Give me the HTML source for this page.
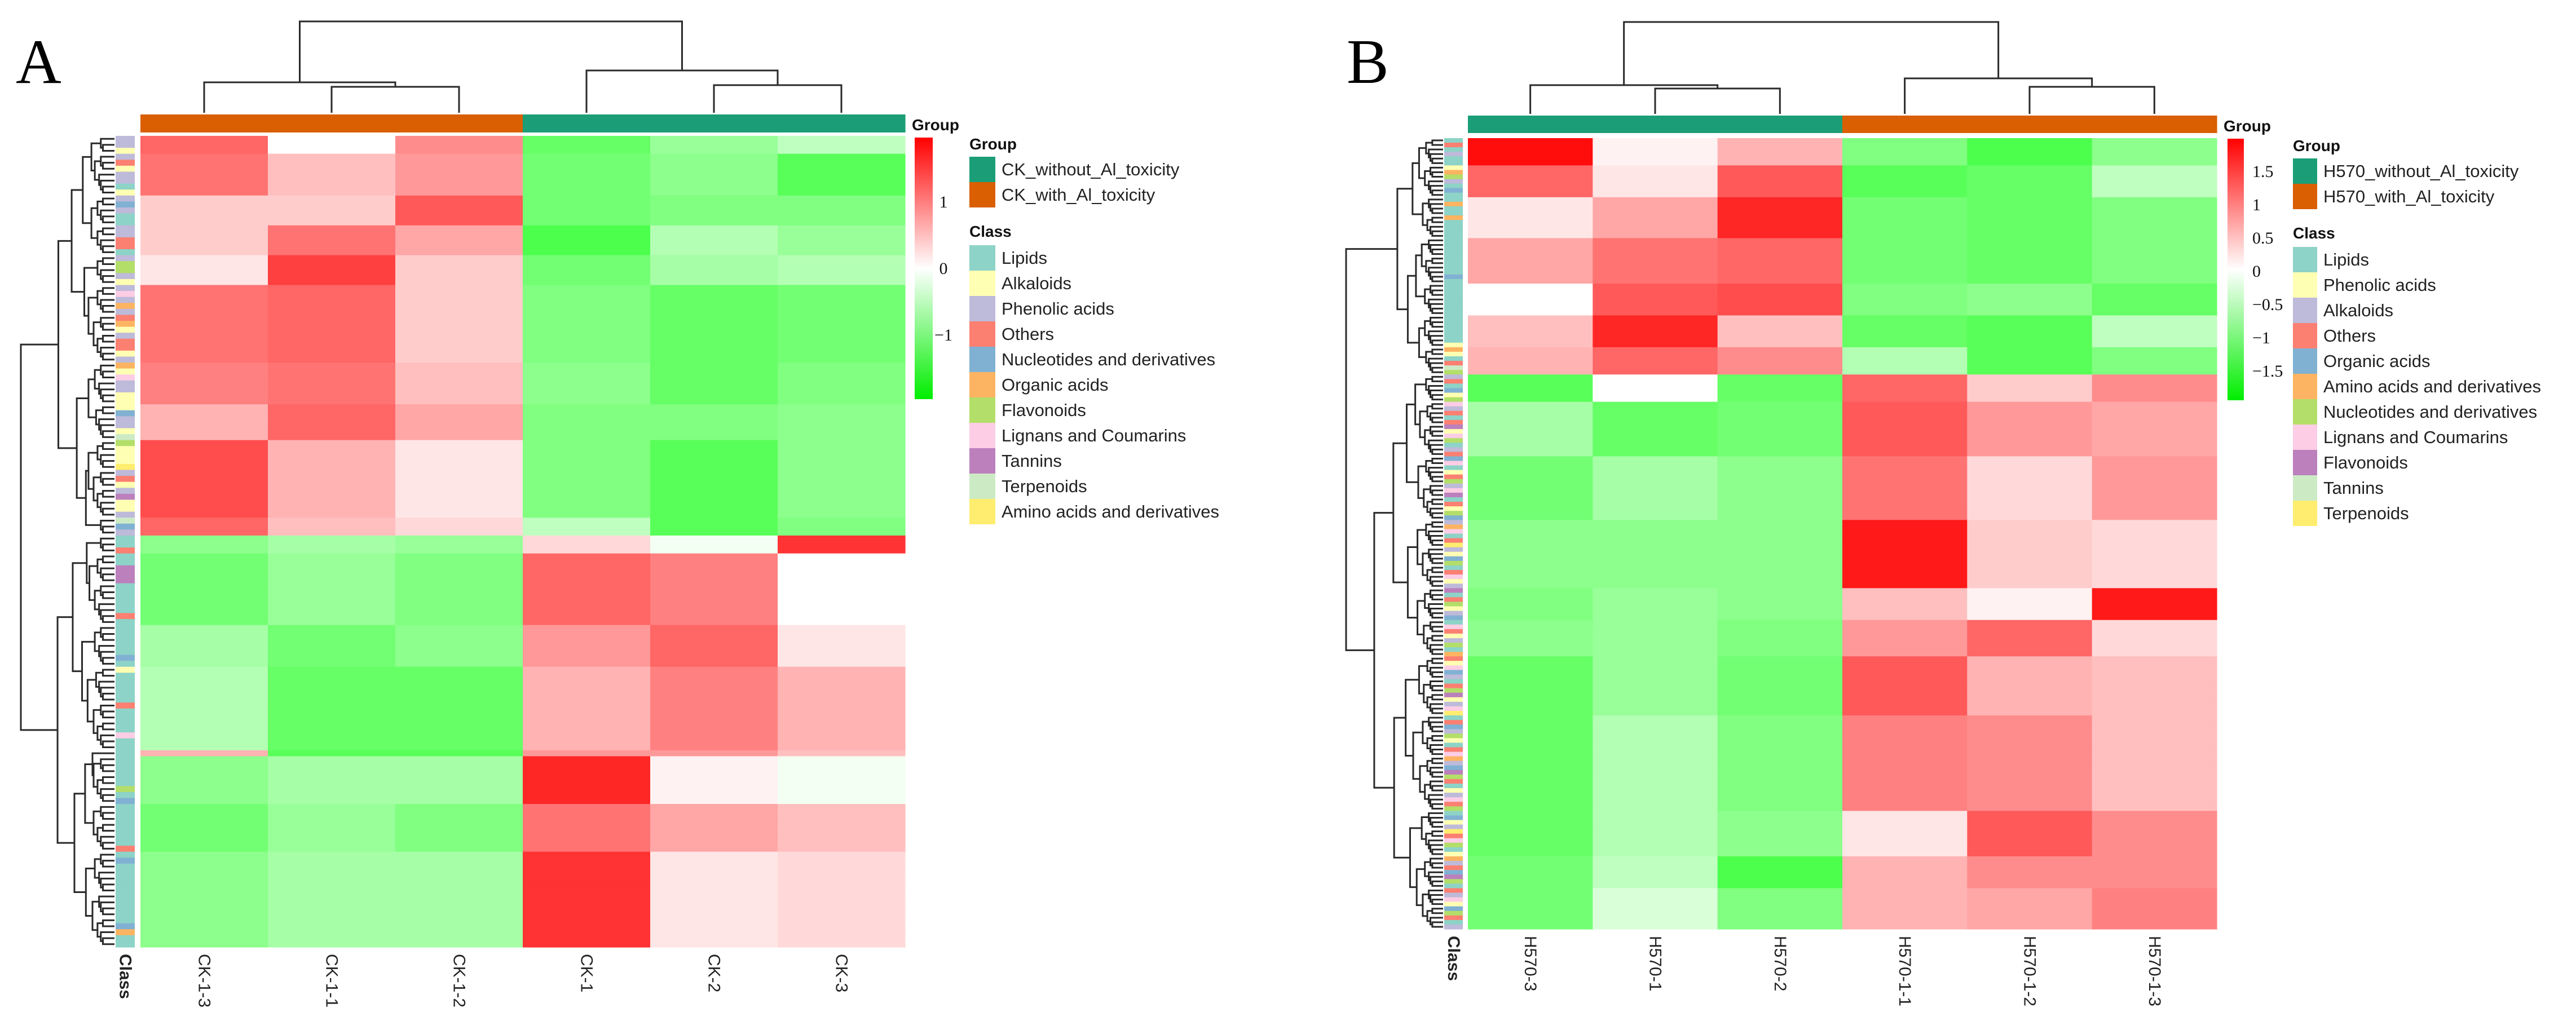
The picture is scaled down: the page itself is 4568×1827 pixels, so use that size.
<!DOCTYPE html>
<html><head><meta charset="utf-8"><style>
html,body{margin:0;padding:0;background:#fff;}
svg{display:block;}
.lg{font-family:"Liberation Sans",sans-serif;font-size:31px;fill:#222;}
.lgt{font-family:"Liberation Sans",sans-serif;font-size:28px;font-weight:bold;fill:#111;}
.cb{font-family:"Liberation Serif",serif;font-size:30px;fill:#111;}
.cl{font-family:"Liberation Sans",sans-serif;font-size:30px;fill:#222;}
.pl{font-family:"Liberation Serif",serif;font-size:112px;fill:#000;}
</style></head><body>
<svg id="fig" width="4568" height="1827" viewBox="0 0 4568 1827" xmlns="http://www.w3.org/2000/svg">
<rect x="0" y="0" width="4568" height="1827" fill="#fff"/>
<text class="pl" x="28" y="147">A</text>
<text class="pl" x="2388" y="147">B</text>
</svg>
<script>
// ---------- Panel A data ----------
const colsA = ['CK-1-3','CK-1-1','CK-1-2','CK-1','CK-2','CK-3'];
const groupsA = ['with','with','with','without','without','without'];
const blockRowsA = [3,7,5,5,5,13,7,6,13,3, 3,12,7,14,1,8,8,16];
const blockValsA = [
 [1.2,0.0,0.9,-1.2,-0.8,-0.5],
 [1.1,0.5,0.8,-1.1,-0.9,-1.3],
 [0.4,0.4,1.3,-1.1,-1.0,-1.0],
 [0.4,1.1,0.7,-1.4,-0.6,-0.8],
 [0.2,1.5,0.4,-1.1,-0.7,-0.6],
 [1.1,1.2,0.4,-1.0,-1.2,-1.1],
 [1.0,1.1,0.5,-0.9,-1.2,-1.0],
 [0.6,1.2,0.7,-1.0,-1.0,-0.9],
 [1.4,0.6,0.2,-1.0,-1.3,-0.9],
 [1.2,0.5,0.3,-0.5,-1.3,-1.0],
 [-0.9,-0.7,-0.8,0.3,-0.1,1.6],
 [-1.1,-0.8,-1.0,1.2,1.0,0.0],
 [-0.7,-1.1,-0.9,0.8,1.2,0.2],
 [-0.6,-1.2,-1.2,0.6,1.0,0.6],
 [0.6,-1.3,-1.3,0.8,0.8,0.5],
 [-0.9,-0.7,-0.7,1.7,0.1,-0.1],
 [-1.1,-0.8,-1.0,1.1,0.7,0.5],
 [-0.9,-0.7,-0.7,1.6,0.2,0.3]
];
const clusterRowsA = [67,69];
const classCodesA = "PPKPOKPPLKPNPLLPPOOLPFFPKPCPGPOGKPOOKPGKCPPKKKNPPKEFKKKMPOKPTKKPENP" +
                    "LLOLLTTTLLLLLOLLLLLLNLKLLLLLOLLLLCLLLLLLLLFLNLLLLLLLOLNLLLLLLLLLLNGLL";
const classNamesA = ['Lipids','Alkaloids','Phenolic acids','Others','Nucleotides and derivatives','Organic acids','Flavonoids','Lignans and Coumarins','Tannins','Terpenoids','Amino acids and derivatives'];
const classKeysA = ['L','K','P','O','N','G','F','C','T','E','M'];
const groupNamesA = ['CK_without_Al_toxicity','CK_with_Al_toxicity'];
const colorTicksA = [1,0,-1];

// ---------- Panel B data ----------
const colsB = ['H570-3','H570-1','H570-2','H570-1-1','H570-1-2','H570-1-3'];
const groupsB = ['without','without','without','with','with','with'];
const blockRowsB = [6,7,9,10,7,7,6, 6,12,14,15,7,8,13,21,10,7,9];
const blockValsB = [
 [1.9,0.1,0.6,-1.0,-1.4,-0.9],
 [1.2,0.2,1.3,-1.3,-1.2,-0.5],
 [0.2,0.7,1.7,-1.1,-1.2,-1.0],
 [0.7,1.1,1.2,-1.1,-1.2,-1.0],
 [0.0,1.3,1.4,-1.0,-0.9,-1.2],
 [0.5,1.7,0.5,-1.2,-1.3,-0.5],
 [0.6,1.2,0.9,-0.6,-1.3,-1.0],
 [-1.3,0.0,-1.2,1.2,0.4,0.9],
 [-0.7,-1.2,-1.1,1.3,0.8,0.7],
 [-1.1,-0.7,-0.9,1.1,0.3,0.8],
 [-0.9,-0.9,-0.9,1.8,0.4,0.3],
 [-1.0,-0.8,-0.9,0.5,0.1,1.8],
 [-0.9,-0.8,-1.0,0.8,1.2,0.3],
 [-1.2,-0.8,-1.1,1.3,0.6,0.5],
 [-1.2,-0.6,-1.0,1.0,0.9,0.5],
 [-1.2,-0.6,-0.9,0.2,1.3,0.9],
 [-1.1,-0.5,-1.4,0.6,0.9,0.9],
 [-1.1,-0.3,-1.0,0.6,0.7,1.0]
];
const clusterRowsB = [52,122];
const classCodesB = "LOLPLLKMNPLGLLMLLMLLLLLLLLLLLLGLLLLLLLLLLLLLLKMKLOTN" +
  "POLGKNCPOLOFKCNLPOGCLKONPCFLOKNGPMCLOEPKGNLOCKPFLONKPGLCOKPNLMOKCGPLONFKPCELOGPNKLOCMPGFNOLKPCONLGKPEOCNLKMPOGFNLOPCKGNOLPKMOGN";
const classNamesB = ['Lipids','Phenolic acids','Alkaloids','Others','Organic acids','Amino acids and derivatives','Nucleotides and derivatives','Lignans and Coumarins','Flavonoids','Tannins','Terpenoids'];
const classKeysB = ['L','K','P','O','G','M','N','C','F','T','E'];
const groupNamesB = ['H570_without_Al_toxicity','H570_with_Al_toxicity'];
const colorTicksB = [1.5,1,0.5,0,-0.5,-1,-1.5];

const palette = ['#8DD3C7','#FFFFB3','#BEBADA','#FB8072','#80B1D3','#FDB462','#B3DE69','#FCCDE5','#BC80BD','#CCEBC5','#FFED6F'];
const groupColor = {without:'#1B9E77', with:'#D95F02'};

const NS='http://www.w3.org/2000/svg';
const svg=document.getElementById('fig');
function mk(tag, attrs, parent){const e=document.createElementNS(NS,tag);for(const k in attrs)e.setAttribute(k,attrs[k]);(parent||svg).appendChild(e);return e;}
function colorOf(v){
  let t=Math.max(-1,Math.min(1,v/2));
  if(t>=0){const c=Math.round(255*(1-t));return `rgb(255,${c},${c})`;}
  const c=Math.round(255*(1+t));return `rgb(${c},255,${c})`;
}

function drawPanel(P){
  const g=mk('g',{});
  
  
  const rows=[];
  P.blockRows.forEach((n,bi)=>{for(let i=0;i<n;i++)rows.push(P.blockVals[bi]);});
  const N=rows.length;
  const rh=(P.bottom-P.top)/N;
  const cw=(P.right-P.left)/P.cols.length;
  const xOf=c=>P.left+c*cw;
  const yOf=r=>P.top+r*rh;
  rows.forEach((vals,r)=>{
    vals.forEach((v,c)=>{
      const e=mk('rect',{x:xOf(c),y:yOf(r),width:cw+0.6,height:rh+0.6,fill:colorOf(v)},g);
      
      
    });
  });
  for(let r=0;r<N;r++){
    const code=P.classCodes[r]||'L';
    const idx=Math.max(0,P.classKeys.indexOf(code));
    const e=mk('rect',{x:P.classX,y:yOf(r),width:P.classW,height:rh+0.6,fill:palette[idx]},g);
    
    
  }
  P.groups.forEach((gr,c)=>{
    const e=mk('rect',{x:xOf(c),y:P.gTop,width:cw+0.6,height:P.gH,fill:groupColor[gr]},g);
    
    
  });
  const gl=mk('text',{x:P.right+12,y:P.gTop+28,class:'lgt'},g);gl.textContent='Group';
  
  
  P.cols.forEach((name,c)=>{
    const cx=xOf(c)+cw/2;
    const t=mk('text',{x:cx,y:P.labY,class:'cl','dominant-baseline':'central',transform:`rotate(90 ${cx} ${P.labY})`},g);
    t.textContent=name;
    
    
  });
  const cx=P.classX+P.classW/2;
  const ct=mk('text',{x:cx,y:P.labY,class:'cl','font-weight':'bold','dominant-baseline':'central',transform:`rotate(90 ${cx} ${P.labY})`},g);
  ct.textContent='Class';
  
  
  const bounds=[];let acc=0;P.blockRows.forEach(n=>{acc+=n;bounds.push(acc);});
  const dg=mk('g',{stroke:'#2a2a2a','stroke-width':3,fill:'none'},g);
  
  
  const span=P.leafX-P.rootX;
  function build(lo,hi,depth){
    if(hi-lo===1)return {y:yOf(lo)+rh/2,x:P.leafX};
    let s;
    if(depth===0){s=P.clusterRows[0];}
    else{
      const inner=bounds.filter(b=>b>lo&&b<hi);
      const mid=(lo+hi)/2;
      if(inner.length){s=inner.reduce((a,b)=>Math.abs(b-mid)<Math.abs(a-mid)?b:a);}
      else{s=lo+Math.max(1,Math.floor((hi-lo)*0.45));}
    }
    const a=build(lo,s,depth+1),b=build(s,hi,depth+1);
    const x=depth===0?P.rootX:P.leafX-span*0.82*Math.pow((hi-lo)/N,0.5)-4;
    mk('path',{d:`M${a.x} ${a.y}H${x}V${b.y}H${b.x}`},dg);
    return {x:x,y:(a.y+b.y)/2};
  }
  build(0,N,0);
  const cd=mk('g',{stroke:'#2a2a2a','stroke-width':3,fill:'none'},g);
  
  
  const cc=c=>xOf(c)+cw/2;
  const Lb=P.gTop-3;
  function link(x1,y1,x2,y2,h){mk('path',{d:`M${x1} ${y1}V${h}H${x2}V${y2}`},cd);return (x1+x2)/2;}
  const m12=link(cc(1),Lb,cc(2),Lb,P.dh[0]);
  const mL=link(cc(0),Lb,m12,P.dh[0],P.dh[1]);
  const m45=link(cc(4),Lb,cc(5),Lb,P.dh[2]);
  const mR=link(cc(3),Lb,m45,P.dh[2],P.dh[3]);
  link(mL,P.dh[1],mR,P.dh[3],P.dh[4]);
  const gid='grad'+P.id;
  const defs=mk('defs',{},g);
  const lg=mk('linearGradient',{id:gid,x1:0,y1:0,x2:0,y2:1},defs);
  [[0,'#ff0000'],[0.5,'#ffffff'],[1,'#00ee00']].forEach(s=>mk('stop',{offset:s[0],'stop-color':s[1]},lg));
  const cbar=mk('rect',{x:P.cbX,y:P.cbTop,width:P.cbW,height:P.cbBot-P.cbTop,fill:`url(#${gid})`},g);
  
  
  const vToY=v=>P.cbZero-v*P.cbUnit;
  P.ticks.forEach(v=>{
    const t=mk('text',{x:P.cbLabX,y:vToY(v)+10,class:'cb','text-anchor':P.cbAnchor},g);
    t.textContent=(v<0?'\u2212':'')+Math.abs(v);
    
    
  });
  const lx=P.legX;
  const t1=mk('text',{x:lx,y:P.legY,class:'lgt'},g);t1.textContent='Group';
  
  
  const sh=45;
  const gcs=[groupColor.without,groupColor.with];
  P.groupNames.forEach((nm,i)=>{
    const y=P.legY+13+i*sh;
    const r=mk('rect',{x:lx,y:y,width:P.swW,height:sh,fill:gcs[i]},g);
    
    
    const t=mk('text',{x:lx+P.swW+11,y:y+33,class:'lg'},g);t.textContent=nm;
    
    
  });
  const cy=P.legY+155;
  const t2=mk('text',{x:lx,y:cy,class:'lgt'},g);t2.textContent='Class';
  
  
  P.classNames.forEach((nm,i)=>{
    const y=cy+15+i*sh;
    const r=mk('rect',{x:lx,y:y,width:P.swW,height:sh,fill:palette[i]},g);
    
    
    const t=mk('text',{x:lx+P.swW+11,y:y+33,class:'lg'},g);t.textContent=nm;
    
    
  });
}

drawPanel({id:'a',cols:colsA,groups:groupsA,blockRows:blockRowsA,blockVals:blockValsA,clusterRows:clusterRowsA,
  classCodes:classCodesA,classKeys:classKeysA,classNames:classNamesA,groupNames:groupNamesA,ticks:colorTicksA,
  left:249,right:1605,top:241,bottom:1680,classX:205,classW:34,gTop:203,gH:32,labY:1692,
  leafX:203,rootX:37,dh:[154,146,151,125,38],
  cbX:1622,cbW:32,cbTop:244,cbBot:708,cbZero:476,cbUnit:118,cbLabX:1673,cbAnchor:'middle',
  legX:1719,legY:265,swW:46});
drawPanel({id:'b',cols:colsB,groups:groupsB,blockRows:blockRowsB,blockVals:blockValsB,clusterRows:clusterRowsB,
  classCodes:classCodesB,classKeys:classKeysB,classNames:classNamesB,groupNames:groupNamesB,ticks:colorTicksB,
  left:2603,right:3931,top:245,bottom:1648,classX:2561,classW:33,gTop:205,gH:31,labY:1660,
  leafX:2559,rootX:2387,dh:[157,151,154,139,39],
  cbX:3950,cbW:29,cbTop:246,cbBot:710,cbZero:481,cbUnit:118,cbLabX:3994,cbAnchor:'start',
  legX:4066,legY:268,swW:43});
</script>
</body></html>
